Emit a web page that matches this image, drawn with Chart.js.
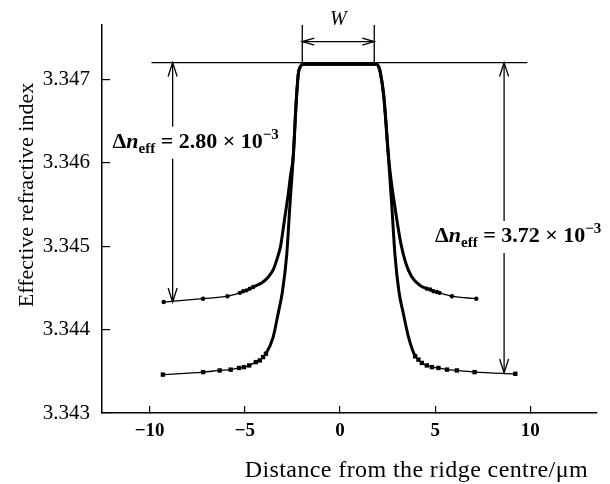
<!DOCTYPE html>
<html><head><meta charset="utf-8">
<script src="https://cdn.jsdelivr.net/npm/chart.js@4/dist/chart.umd.min.js"></script>
<style>html,body{margin:0;padding:0;background:#fff}</style>
</head><body>
<canvas id="c" width="610" height="484"></canvas>
<script>
// ---- data ----
const upperX = [-9.26, -7.19, -5.91, -5.26, -5.09, -4.91, -4.74, -4.56,
  -4.1, -3.8, -3.5, -3.3, -3.12, -2.9, -2.72, -2.6, -2.45, -2.31, -2.19, -2.08, -1.95,
  0,
  1.92, 2.03, 2.12, 2.30, 2.54, 2.68, 2.82, 2.95, 3.2, 3.45, 3.75, 4.2,
  4.56, 4.74, 4.91, 5.09, 5.23, 5.88, 7.16];
const upperY = [3.34433, 3.34437, 3.34440, 3.34444, 3.34446, 3.34447, 3.34449, 3.34451,
  3.34456, 3.34462, 3.34472, 3.34485, 3.34500, 3.34534, 3.34562, 3.34584, 3.34609, 3.34669, 3.34706, 3.34715, 3.34718,
  3.34718,
  3.34718, 3.34715, 3.34708, 3.34680, 3.34609, 3.34580, 3.34557, 3.34537, 3.34503, 3.34480, 3.34464, 3.34453,
  3.34449, 3.34448, 3.34446, 3.34445, 3.34444, 3.34440, 3.34437];
const upperMarkLeft = 8, upperMarkRight = 7;

const lowerX = [-9.30, -7.19, -6.32, -5.74, -5.30, -5.04, -4.77, -4.42, -4.21, -4.04, -3.89,
  -3.51, -3.25, -3.02, -2.80, -2.63, -2.45, -2.31, -2.19, -2.08, -1.95,
  0,
  1.92, 2.03, 2.12, 2.30, 2.54, 2.72, 2.89, 3.10, 3.33, 3.60,
  3.95, 4.12, 4.30, 4.56, 4.83, 5.17, 5.62, 6.14, 7.07, 9.21];
const lowerY = [3.34346, 3.34349, 3.34351, 3.34352, 3.34354, 3.34355, 3.34357, 3.34361, 3.34363, 3.34367, 3.34371,
  3.34391, 3.34419, 3.34446, 3.34489, 3.34549, 3.34609, 3.34669, 3.34706, 3.34715, 3.34718,
  3.34718,
  3.34718, 3.34715, 3.34708, 3.34680, 3.34609, 3.34549, 3.34489, 3.34445, 3.34419, 3.34391,
  3.34368, 3.34364, 3.34360, 3.34357, 3.34355, 3.34354, 3.34352, 3.34351, 3.34349, 3.34347];
const lowerMarkLeft = 11, lowerMarkRight = 10;

const xTicks = [-10, -5, 0, 5, 10];
const xTickLabels = ['\u221210', '\u22125', '0', '5', '10'];
const yTicks = [3.343, 3.344, 3.345, 3.346, 3.347];
const yTickLabels = ['3.343', '3.344', '3.345', '3.346', '3.347'];

const xTitle = 'Distance from the ridge centre/\u03bcm';
const yTitle = 'Effective refractive index';

// annotation values (data units)
const topLevel = 3.3472;
const topLineX = [-9.9, 9.84];
const wEdges = [-1.98, 1.80];
const leftArrow = { x: -8.79, bottom: 3.34433, textX: -11.95, textY: 3.34618, value: '2.80' };
const rightArrow = { x: 8.62, bottom: 3.34348, textX: 4.99, textY: 3.34505, value: '3.72' };

const SERIF = "'Liberation Serif','Times New Roman',serif";

function isMark(i, n, L, R) { return i < L || i >= n - R; }
function curveDataset(xs, ys, L, R, style, rad) {
  const n = xs.length;
  return {
    data: xs.map((x, i) => ({ x, y: ys[i] })),
    borderColor: '#000', backgroundColor: '#000',
    borderWidth: 3,
    cubicInterpolationMode: 'monotone',
    pointStyle: style,
    pointRadius: xs.map((_, i) => isMark(i, n, L, R) ? rad : 0),
    pointHoverRadius: 0,
    pointBorderWidth: 0,
    borderCapStyle: 'round', borderJoinStyle: 'round',
    segment: {
      borderWidth: c => (isMark(c.p0DataIndex, n, L, R) && isMark(c.p1DataIndex, n, L, R)) ? 1.3 : 3
    }
  };
}

function head(ctx, tx, ty, ux, uy, L, H) {
  const px = -uy, py = ux;
  ctx.beginPath();
  ctx.moveTo(tx - L * ux + H * px, ty - L * uy + H * py);
  ctx.lineTo(tx, ty);
  ctx.lineTo(tx - L * ux - H * px, ty - L * uy - H * py);
  ctx.stroke();
}
function seg(ctx, x1, y1, x2, y2) {
  ctx.beginPath(); ctx.moveTo(x1, y1); ctx.lineTo(x2, y2); ctx.stroke();
}
function drawDelta(ctx, x, y, num) {
  const runs = [
    { t: '\u0394', f: `bold 22px ${SERIF}`, dy: 0 },
    { t: 'n', f: `italic bold 22px ${SERIF}`, dy: 0 },
    { t: 'eff', f: `bold 15px ${SERIF}`, dy: 5 },
    { t: ' = ' + num + ' \u00d7 10', f: `bold 22px ${SERIF}`, dy: 0 },
    { t: '\u22123', f: `bold 15px ${SERIF}`, dy: -9 }
  ];
  ctx.textAlign = 'left'; ctx.textBaseline = 'alphabetic';
  let cx = x;
  for (const r of runs) {
    ctx.font = r.f;
    ctx.fillText(r.t, cx, y + r.dy);
    cx += ctx.measureText(r.t).width;
  }
}

const annot = {
  id: 'annot',
  afterDraw(chart) {
    const { ctx, chartArea: ca } = chart;
    const X = v => chart.scales.x.getPixelForValue(v);
    const Y = v => chart.scales.y.getPixelForValue(v);
    ctx.save();
    ctx.strokeStyle = '#000'; ctx.fillStyle = '#000';
    ctx.lineWidth = 1.3; ctx.lineCap = 'butt';
    const yTop = Y(topLevel);
    // reference level line
    seg(ctx, X(topLineX[0]), yTop, X(topLineX[1]), yTop);
    // W bracket
    const wl = X(wEdges[0]), wr = X(wEdges[1]);
    seg(ctx, wl, ca.top, wl, yTop);
    seg(ctx, wr, ca.top, wr, yTop);
    const wy = yTop - 21;
    seg(ctx, wl, wy, wr, wy);
    head(ctx, wl, wy, -1, 0, 12, 3.5);
    head(ctx, wr, wy, 1, 0, 12, 3.5);
    ctx.font = `italic 20px ${SERIF}`;
    ctx.textAlign = 'center'; ctx.textBaseline = 'alphabetic';
    ctx.fillText('W', (wl + wr) / 2, 25);
    // vertical arrows with text
    for (const a of [leftArrow, rightArrow]) {
      const ax = X(a.x), ab = Y(a.bottom), tb = Y(a.textY);
      seg(ctx, ax, yTop, ax, tb - 21);
      seg(ctx, ax, tb + 11, ax, ab);
      head(ctx, ax, yTop, 0, -1, 14, 4.5);
      head(ctx, ax, ab, 0, 1, 14, 4.5);
      drawDelta(ctx, X(a.textX), tb, a.value);
    }
    // axis titles
    ctx.font = `24px ${SERIF}`;
    ctx.letterSpacing = '0.4px';
    ctx.textAlign = 'right'; ctx.textBaseline = 'alphabetic';
    ctx.fillText(xTitle, 588, 477);
    ctx.letterSpacing = '0px';
    ctx.font = `22px ${SERIF}`;
    ctx.save();
    ctx.translate(33, 195);
    ctx.rotate(-Math.PI / 2);
    ctx.textAlign = 'center';
    ctx.fillText(yTitle, 0, 0);
    ctx.restore();
    ctx.restore();
  }
};

new Chart(document.getElementById('c'), {
  type: 'line',
  data: {
    datasets: [
      curveDataset(lowerX, lowerY, lowerMarkLeft, lowerMarkRight, 'rect', 3.1),
      curveDataset(upperX, upperY, upperMarkLeft, upperMarkRight, 'circle', 2.2)
    ]
  },
  options: {
    responsive: false,
    devicePixelRatio: 1,
    animation: false,
    layout: { autoPadding: false, padding: { top: 25, right: 13, left: 0, bottom: 0 } },
    plugins: { legend: { display: false }, tooltip: { enabled: false } },
    scales: {
      x: {
        type: 'linear', min: -12.5, max: 13.5,
        afterBuildTicks: s => { s.ticks = xTicks.map(v => ({ value: v })); },
        afterFit: s => { s.height = 71; s.paddingLeft = 0; s.paddingRight = 0; },
        ticks: {
          callback: (v, i) => xTickLabels[i],
          font: { family: SERIF, size: 19, weight: 'bold' },
          color: '#000', padding: 14, maxRotation: 0
        },
        grid: { drawOnChartArea: false, drawTicks: true, tickLength: -7, color: '#000', lineWidth: 1.2 },
        border: { display: true, color: '#000', width: 1.5 },
        title: { display: false }
      },
      y: {
        type: 'linear', min: 3.343, max: 3.34765,
        afterBuildTicks: s => { s.ticks = yTicks.map(v => ({ value: v })); },
        afterFit: s => { s.width = 102; s.paddingTop = 0; s.paddingBottom = 0; },
        ticks: {
          callback: (v, i) => yTickLabels[i],
          font: { family: SERIF, size: 21 },
          color: '#000', padding: 20
        },
        grid: { drawOnChartArea: false, drawTicks: true, tickLength: -8, color: '#000', lineWidth: 1.2 },
        border: { display: true, color: '#000', width: 1.5 },
        title: { display: false }
      }
    }
  },
  plugins: [annot]
});
</script>
</body></html>
